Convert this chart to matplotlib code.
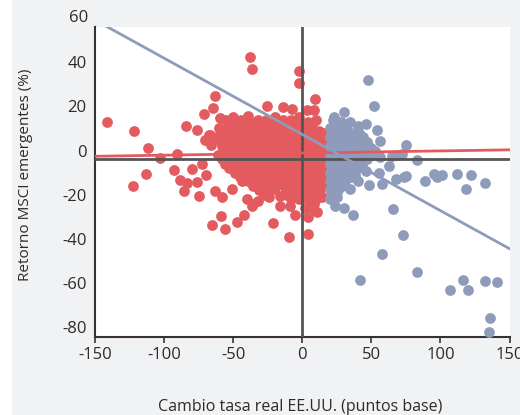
import matplotlib
matplotlib.use("Agg")
import matplotlib.pyplot as plt
from matplotlib.patches import Rectangle

plt.rcParams['font.family'] = ['Open Sans', 'DejaVu Sans']
plt.rcParams['axes.unicode_minus'] = False

# Scattered red points (rate falls / small rises)
red_out = [
    (-141.4, 12.9), (-121.8, 9.0), (-112.0, 1.2), (-102.6, -3.2), (-90.3, -1.8),
    (-112.8, -10.6), (-122.5, -15.9), (-93.0, -8.6), (-84.0, 11.0), (-76.4, 9.4),
    (-71.0, 16.7), (-63.2, 24.7), (-64.4, 19.2), (-67.3, 6.8), (-70.4, 4.9),
    (-66.3, 2.7), (-80.0, -8.2), (-72.6, -5.9), (-70.0, -11.0), (-88.6, -13.3),
    (-83.2, -14.7), (-76.3, -14.4), (-85.5, -18.4), (-74.7, -20.7), (-63.2, -18.2),
    (-57.9, -20.9), (-51.1, -17.4), (-43.8, -13.6), (-40.2, -22.0), (-35.4, -24.2),
    (-31.7, -22.7), (-36.5, -25.0), (-41.9, -29.1), (-47.0, -32.2), (-55.9, -35.3),
    (-65.6, -33.6), (-59.0, -29.5), (-37.8, 42.1), (-36.1, 36.7), (-2.0, 36.0),
    (-2.0, 30.6), (8.9, 23.2), (-25.6, 20.2), (-14.0, 19.7), (-7.5, 18.6),
    (-59.5, 14.7), (-49.9, 15.2), (-39.0, 15.5), (-66.8, 7.1), (3.4, 18.2),
    (8.2, 18.2), (-21.3, -32.9), (-9.9, -39.0), (-5.6, -29.2), (4.1, -30.3),
    (3.8, -37.6), (10.5, -27.7), (-16.0, -25.0), (-9.0, -25.3), (8.2, -24.2),
    (-20.8, -17.4), (-16.0, -20.5), (-3.8, -18.2),
]

# Dense red cloud
red_core = [
    (-55, 14), (-50, 14), (-44, 14), (-38, 13), (-32, 14), (-26, 14), (-20, 15), (-14, 14), (-8, 14), (-2, 15), (4, 13), (10, 14),
    (-53, 12), (-47, 12), (-41, 12), (-35, 12), (-29, 12), (-23, 12), (-17, 12), (-11, 12), (-5, 12), (1, 12), (7, 12),
    (-60, 10), (-54, 10), (-48, 11), (-42, 10), (-36, 10), (-30, 10), (-24, 11), (-18, 10), (-12, 10), (-6, 10), (0, 11), (6, 10), (12, 9),
    (-57, 8), (-51, 8), (-45, 8), (-39, 8), (-33, 8), (-27, 8), (-21, 8), (-15, 8), (-9, 8), (-3, 8), (3, 8), (9, 8), (15, 8),
    (-62, 6), (-56, 6), (-50, 6), (-44, 6), (-38, 6), (-32, 6), (-26, 6), (-20, 6), (-14, 6), (-8, 6), (-2, 6), (4, 6), (10, 6), (16, 5),
    (-59, 4), (-53, 4), (-47, 4), (-41, 4), (-35, 4), (-29, 4), (-23, 4), (-17, 4), (-11, 4), (-5, 4), (1, 4), (7, 4), (13, 4),
    (-58, 2), (-52, 2), (-46, 2), (-40, 2), (-34, 2), (-28, 2), (-22, 2), (-16, 2), (-10, 2), (-4, 2), (2, 2), (8, 2), (14, 2), (18, 1),
    (-57, 0), (-51, 0), (-45, 0), (-39, 0), (-33, 0), (-27, 0), (-21, 0), (-15, 0), (-9, 0), (-3, 0), (3, 0), (9, 0), (15, 0),
    (-61, -2), (-54, -2), (-48, -2), (-42, -2), (-36, -2), (-30, -2), (-24, -2), (-18, -2), (-12, -2), (-6, -2), (0, -2), (6, -2), (12, -2), (17, -3),
    (-58, -4), (-52, -4), (-46, -4), (-40, -4), (-34, -4), (-28, -4), (-22, -4), (-16, -4), (-10, -4), (-4, -4), (2, -4), (8, -4), (14, -4),
    (-56, -6), (-50, -6), (-44, -6), (-38, -6), (-32, -6), (-26, -6), (-20, -6), (-14, -6), (-8, -6), (-2, -6), (4, -6), (10, -6), (16, -6),
    (-53, -8), (-47, -8), (-41, -8), (-35, -8), (-29, -8), (-23, -8), (-17, -8), (-11, -8), (-5, -8), (1, -8), (7, -8), (13, -8),
    (-49, -10), (-44, -10), (-38, -10), (-32, -10), (-26, -10), (-20, -10), (-14, -10), (-8, -10), (-2, -10), (4, -10), (10, -10), (15, -10),
    (-45, -12), (-41, -12), (-35, -12), (-29, -12), (-23, -12), (-17, -12), (-11, -12), (-5, -12), (1, -12), (7, -12), (13, -12),
    (-39, -14), (-34, -14), (-28, -14), (-22, -14), (-16, -14), (-10, -14), (-4, -14), (2, -14), (8, -14), (14, -14),
    (-36, -16), (-31, -16), (-25, -16), (-19, -16), (-13, -16), (-7, -16), (-1, -16), (5, -16), (11, -16), (15, -16),
    (-31, -18), (-26, -18), (-12, -18), (-6, -18), (0, -18), (6, -18), (12, -18),
    (-28, -20), (-11, -20), (-5, -20), (1, -20), (7, -20), (13, -20),
    (-24, -21), (-8, -22), (-2, -22), (4, -22), (10, -22), (14, -21),
    (2, -26), (8, -26),
]

# Scattered blue points (rate rises)
blue_out = [
    (47.6, 32.1), (51.8, 20.2), (30.3, 17.5), (23.0, 15.2), (34.4, 12.9),
    (45.8, 12.1), (54.0, 9.4), (56.4, 4.5), (74.8, 2.3), (83.0, -4.1),
    (72.4, -1.5), (65.1, -2.3), (68.8, -2.0), (95.4, -10.6), (101.3, -11.0),
    (112.3, -10.6), (122.3, -11.0), (132.2, -14.8), (118.2, -17.6), (88.7, -13.6),
    (97.8, -12.1), (74.8, -11.4), (57.9, -15.2), (48.3, -15.7), (55.4, -10.2),
    (45.8, -9.3), (62.7, -6.8), (34.9, -17.6), (65.8, -26.4), (67.5, -12.9),
    (73.6, -11.8), (22.7, -20.5), (24.0, -25.0), (30.0, -25.8), (36.8, -29.1),
    (73.0, -38.4), (57.4, -46.7), (41.6, -58.5), (83.3, -54.8), (116.4, -58.5),
    (106.8, -63.2), (119.8, -63.2), (132.2, -59.1), (140.7, -59.4), (136.0, -76.0),
    (135.3, -82.0),
]

# Dense blue cloud
blue_core = [
    (22, 14), (28, 13), (40, 11),
    (25, 12), (31, 12),
    (20, 10), (26, 10), (32, 10), (38, 8),
    (23, 8), (29, 8), (35, 8), (41, 8),
    (20, 6), (26, 6), (32, 6), (38, 5), (44, 6),
    (23, 4), (29, 4), (35, 4), (41, 4), (47, 4),
    (20, 2), (26, 2), (32, 2), (38, 2), (44, 2), (50, 1),
    (23, 0), (29, 0), (35, 0), (41, 0), (47, 0), (53, 0),
    (20, -2), (26, -2), (32, -2), (38, -2), (44, -3), (50, -2), (56, -3),
    (23, -4), (29, -4), (35, -4), (41, -4), (47, -4),
    (20, -6), (26, -6), (32, -6), (38, -6), (43, -7),
    (23, -8), (29, -8), (35, -8), (40, -8),
    (20, -10), (26, -10), (32, -10), (38, -11),
    (23, -12), (29, -12), (35, -12),
    (20, -14), (26, -14), (31, -14), (40, -14),
    (23, -16), (29, -16),
    (20, -18), (26, -18),
    (22, -20),
    (20, -22), (25, -21),
]

# Fitted lines (intercept, slope)
red_fit = (-1.15, 0.0097)
blue_fit = (7.3, -0.345)
mean_ret = -3.8

xticks = [-150, -100, -50, 0, 50, 100, 150]
yticks = [-80, -60, -40, -20, 0, 20, 40]

red_c = '#e35b5e'
blue_c = '#8f9bbb'
txt_c = '#2e2a2a'

fig = plt.figure(figsize=(5.2, 4.15), dpi=100, facecolor='white')
fig.patches.append(Rectangle((12 / 520, 0), 1, 1, transform=fig.transFigure,
                             facecolor='#f1f2f4', edgecolor='none', zorder=-10))
ax = fig.add_axes([95 / 520, 78 / 415, 414.5 / 520, 310 / 415])
ax.set_facecolor('white')

rx = [p[0] for p in red_out + red_core]
ry = [p[1] for p in red_out + red_core]
bx = [p[0] for p in blue_out + blue_core]
by = [p[1] for p in blue_out + blue_core]

ax.scatter(rx, ry, s=60, color=red_c, linewidths=0, zorder=2)
ax.scatter(bx, by, s=60, color=blue_c, linewidths=0, zorder=3)

ax.axhline(mean_ret, color='#555555', lw=2, zorder=4)
ax.axvline(0, color='#555555', lw=2, zorder=4)

xl = [-150, 150]
ax.plot(xl, [red_fit[0] + red_fit[1] * v for v in xl], color=red_c, lw=2, zorder=5)
ax.plot(xl, [blue_fit[0] + blue_fit[1] * v for v in xl], color=blue_c, lw=2, zorder=5)

ax.set_xlim(-150, 150)
ax.set_ylim(-84.4, 55.9)
ax.set_xticks(xticks)
ax.set_yticks(yticks)

for s in ['top', 'right']:
    ax.spines[s].set_visible(False)
for s in ['left', 'bottom']:
    ax.spines[s].set_color('#3a3230')
    ax.spines[s].set_linewidth(1.5)

ax.tick_params(axis='x', length=4, width=1.2, color='#3a3230', pad=3,
               labelsize=12, labelcolor=txt_c)
ax.tick_params(axis='y', length=0, pad=6, labelsize=12, labelcolor=txt_c)
ax.text(-0.017, 60, '60', transform=ax.get_yaxis_transform(), ha='right', va='center',
        fontsize=12, color=txt_c, clip_on=False)

ax.set_xlabel('Cambio tasa real EE.UU. (puntos base)', fontsize=11.5, color=txt_c)
ax.set_ylabel('Retorno MSCI emergentes (%)', fontsize=11, color=txt_c)
ax.xaxis.set_label_coords(0.495, -0.2)
ax.yaxis.set_label_coords(-0.15, 0.523)

fig.savefig('out.png', dpi=100, facecolor=fig.get_facecolor())
